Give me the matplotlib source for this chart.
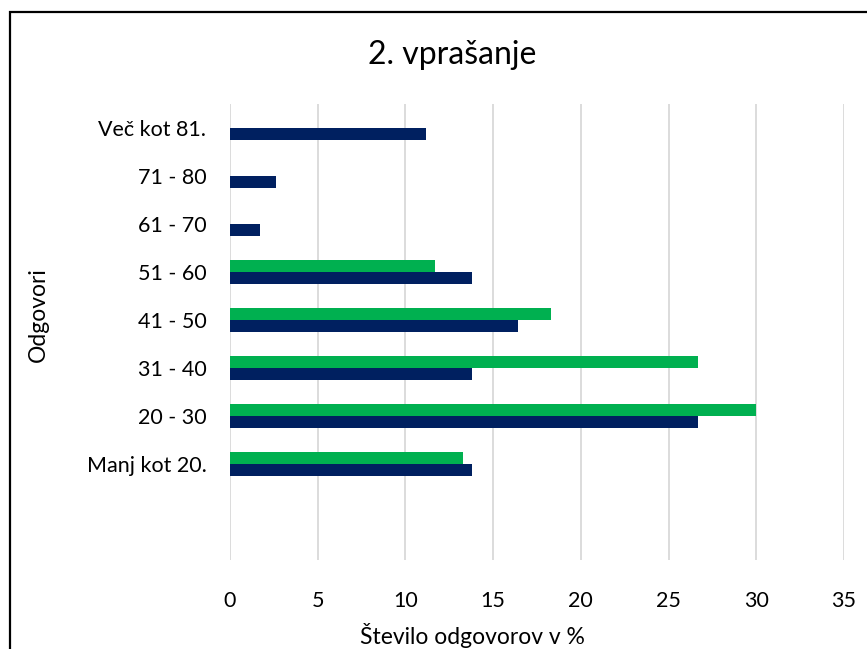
import matplotlib.pyplot as plt
from matplotlib.patches import Rectangle
import numpy as np

plt.rcParams['font.family'] = ['Lato', 'DejaVu Sans']

# data (percent of answers)
categories = ['Manj kot 20.', '20 - 30', '31 - 40', '41 - 50', '51 - 60',
              '61 - 70', '71 - 80', 'Več kot 81.']
navy_vals = [13.8, 26.7, 13.8, 16.4, 13.8, 1.7, 2.6, 11.2]
green_vals = [13.3, 30.0, 26.7, 18.3, 11.7, 0, 0, 0]
x_ticks = [0, 5, 10, 15, 20, 25, 30, 35]

fig = plt.figure(figsize=(8.67, 6.49), dpi=100)

# chart border (cut off on the right and bottom like the original)
fig.patches.append(Rectangle((10 / 867, -0.1), 1.0, 0.1 + (649 - 12) / 649,
                             transform=fig.transFigure, fill=False,
                             edgecolor='black', linewidth=1.6))

ax = fig.add_axes([230 / 867, (649 - 560) / 649, 614 / 867, 456 / 649])

y = np.arange(len(categories))
h = 0.25
ax.barh(y - h / 2, navy_vals, height=h, color='#002060', zorder=3)
ax.barh(y + h / 2, green_vals, height=h, color='#00B050', zorder=3)

ax.set_xlim(0, 35)
ax.set_ylim(-2, 7.5)
ax.set_xticks(x_ticks)
ax.set_yticks(y)
ax.set_yticklabels(categories)
ax.grid(axis='x', color='#D9D9D9', linewidth=1.3, zorder=0)
for s in ax.spines.values():
    s.set_visible(False)
ax.tick_params(axis='both', length=0, labelsize=15.5)
ax.tick_params(axis='x', pad=22)
ax.tick_params(axis='y', pad=17)

fig.text(472 / 867, 1 - 636 / 649, 'Število odgovorov v %', fontsize=16.5,
         ha='center', va='center')
fig.text(38 / 867, 1 - 315 / 649, 'Odgovori', fontsize=16.5, rotation=90,
         ha='center', va='center')
fig.text(452 / 867, 1 - 55 / 649, '2. vprašanje', fontsize=23,
         ha='center', va='center')

fig.savefig('out.png', dpi=100)
